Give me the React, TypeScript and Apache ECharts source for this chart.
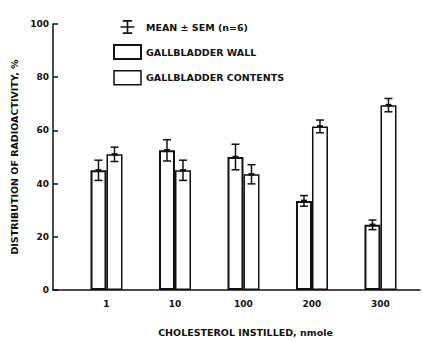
import React, { useEffect, useRef } from "react";
import * as echarts from "echarts";

const categories = ["1", "10", "100", "200", "300"];
const wallMean = [45, 52.5, 50, 33.5, 24.5];
const wallSem = [3.8, 4, 4.8, 2, 1.8];
const contentsMean = [51, 45, 43.5, 61.5, 69.5];
const contentsSem = [2.7, 3.8, 3.6, 2.4, 2.5];
const yTicks = [0, 20, 40, 60, 80, 100];

const FONT = "DejaVu Sans";
const BAR_W = 16;

export default function App() {
  const ref = useRef<HTMLDivElement>(null);
  useEffect(() => {
    if (!ref.current) return;
    const chart = echarts.init(ref.current, undefined, { renderer: "svg" });

    const errData: number[][] = [];
    categories.forEach((_, i) => {
      errData.push([i, wallMean[i], wallSem[i], -1]);
      errData.push([i, contentsMean[i], contentsSem[i], 1]);
    });

    const crossIcon =
      "path://M2,0H10V1.4H2Z M5.3,0H6.7V12H5.3Z M0,5.3H12V6.7H0Z M2,10.6H10V12H2Z";

    chart.setOption({
      animation: false,
      backgroundColor: "#fff",
      grid: { left: 53, right: 2, top: 24, bottom: 46 },
      legend: {
        orient: "vertical",
        left: 108,
        top: 15,
        itemWidth: 27,
        itemHeight: 14,
        itemGap: 10,
        selectedMode: false,
        textStyle: { fontFamily: FONT, fontWeight: "bold", fontSize: 9.5, color: "#111" },
        data: [
          { name: "MEAN ± SEM (n=6)", icon: crossIcon, itemStyle: { color: "#111", borderWidth: 0 } },
          { name: "GALLBLADDER WALL", icon: "rect", itemStyle: { color: "#fff", borderColor: "#111", borderWidth: 2 } },
          { name: "GALLBLADDER CONTENTS", icon: "rect", itemStyle: { color: "#fff", borderColor: "#111", borderWidth: 1.5 } },
        ],
      },
      xAxis: {
        type: "value",
        min: -0.781,
        max: 4.577,
        minInterval: 1,
        maxInterval: 1,
        splitLine: { show: false },
        axisTick: { show: false },
        axisLine: { show: true, onZero: false, lineStyle: { color: "#111", width: 1.5 } },
        axisLabel: {
          showMinLabel: false,
          showMaxLabel: false,
          margin: 9,
          fontFamily: FONT,
          fontWeight: "bold",
          fontSize: 9,
          color: "#111",
          formatter: (v: number) =>
            Number.isInteger(v) && v >= 0 && v < categories.length ? categories[v] : "",
        },
        name: "CHOLESTEROL INSTILLED, nmole",
        nameLocation: "middle",
        nameGap: 37,
        nameTextStyle: {
          fontFamily: FONT,
          fontWeight: "bold",
          fontSize: 9.5,
          color: "#111",
          padding: [0, 0, 0, 18],
        },
      },
      yAxis: {
        type: "value",
        min: yTicks[0],
        max: yTicks[yTicks.length - 1],
        interval: 20,
        splitLine: { show: false },
        axisLine: { show: true, onZero: false, lineStyle: { color: "#111", width: 1.5 } },
        axisTick: { show: true, inside: true, length: 5, lineStyle: { color: "#111", width: 1.5 } },
        axisLabel: { fontFamily: FONT, fontWeight: "bold", fontSize: 9, color: "#111", margin: 4 },
        name: "DISTRIBUTION OF RADIOACTIVITY, %",
        nameLocation: "middle",
        nameGap: 27,
        nameTextStyle: { fontFamily: FONT, fontWeight: "bold", fontSize: 9.5, color: "#111" },
      },
      series: [
        {
          name: "GALLBLADDER WALL",
          type: "bar",
          barWidth: BAR_W,
          barGap: "0%",
          data: wallMean.map((v, i) => [i, v]),
          itemStyle: { color: "#fff", borderColor: "#111", borderWidth: 2 },
        },
        {
          name: "GALLBLADDER CONTENTS",
          type: "bar",
          barWidth: BAR_W,
          barGap: "0%",
          data: contentsMean.map((v, i) => [i, v]),
          itemStyle: { color: "#fff", borderColor: "#111", borderWidth: 1.5 },
        },
        {
          name: "MEAN ± SEM (n=6)",
          type: "custom",
          z: 5,
          itemStyle: { color: "#111" },
          data: errData,
          encode: { x: 0, y: 1 },
          renderItem: (params: any, api: any) => {
            const x = api.value(0);
            const m = api.value(1);
            const s = api.value(2);
            const side = api.value(3);
            const top = api.coord([x, m + s]);
            const bot = api.coord([x, m - s]);
            const mid = api.coord([x, m]);
            const cx = top[0] + side * (BAR_W / 2);
            const cap = 4;
            const style = { stroke: "#111", lineWidth: 1.5 };
            return {
              type: "group",
              children: [
                { type: "line", shape: { x1: cx, y1: top[1], x2: cx, y2: bot[1] }, style },
                { type: "line", shape: { x1: cx - cap, y1: top[1], x2: cx + cap, y2: top[1] }, style },
                { type: "line", shape: { x1: cx - cap, y1: bot[1], x2: cx + cap, y2: bot[1] }, style },
                { type: "line", shape: { x1: cx - 3, y1: mid[1], x2: cx + 3, y2: mid[1] }, style: { stroke: "#111", lineWidth: 2.5 } },
              ],
            };
          },
        },
      ],
    });
    return () => chart.dispose();
  }, []);
  return (
    <div
      ref={ref}
      style={{ position: "absolute", left: 0, top: 0, width: 422, height: 342 }}
    />
  );
}
